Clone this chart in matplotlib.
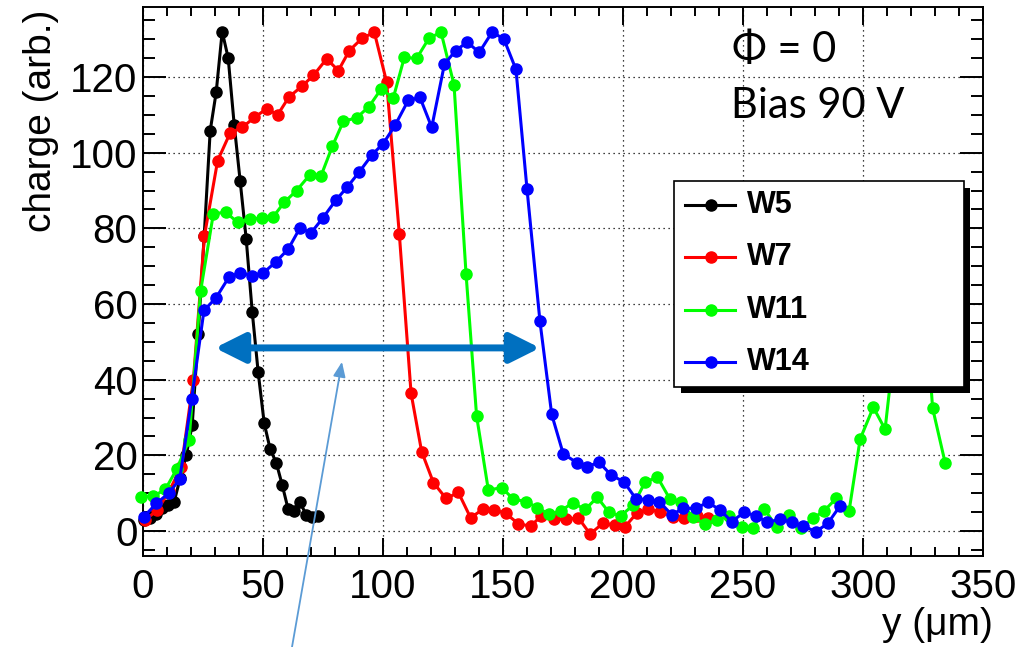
import matplotlib
matplotlib.use("Agg")
import matplotlib.pyplot as plt
from matplotlib.patches import Rectangle
from matplotlib.lines import Line2D
from matplotlib.ticker import MultipleLocator

# data: position y (um) and collected charge (arb.) per wafer
w5_x = [0.5, 3, 5.5, 8, 10.5, 13, 15.5, 18, 20.5, 23, 25.5, 28, 30.5, 33, 35.5,
        38, 40.5, 43, 45.5, 48, 50.5, 53, 55.5, 58, 60.5, 63, 65.5, 68, 70.5, 73]
w5_y = [3, 3.5, 4.5, 6, 7, 7.8, 14, 20, 28, 52, 78, 105.8, 116, 132, 125,
        107.4, 92.4, 77.2, 58, 41.9, 28.5, 21.6, 18.1, 12.2, 5.7, 5.3, 7.6, 4.2, 3.6, 3.9]

w7_x = [1, 6, 11, 16, 21, 25.6, 31.1, 36.3, 41.4, 46.4, 51.5, 56.1, 60.8, 66.1, 71,
        76.5, 81.4, 86, 91.4, 96.4, 101.5, 106.8, 111.7, 116.1, 121, 126.3, 131.4, 136.5,
        141.5, 146.3, 151.1, 156.4, 161.5, 166, 171.3, 176.3, 181.4, 186.3, 191.5, 196.7,
        200.8, 205.7, 210.5, 215.4, 221, 225.5, 231, 235.5]
w7_y = [3, 5.5, 10.7, 17, 40, 78, 97.9, 105.2, 106.7, 109.3, 111.6, 110, 114.7, 117.5, 120.4,
        124.8, 121.7, 127, 130.3, 131.8, 118.7, 78.5, 36.4, 21, 12.8, 8.6, 10.2, 3.5,
        5.7, 5.6, 4.7, 1.9, 1.3, 4, 3.1, 3.1, 3.5, -0.8, 2, 1.6,
        1.1, 4.7, 5.7, 5.1, 3.8, 3.4, 4, 3.4]

w11_x = [-0.8, 4.3, 9.3, 14, 19.2, 24, 29.3, 34.4, 39.4, 44.6, 49.7, 54.3, 58.9, 64, 69.6,
         74.2, 78.9, 83.5, 89, 94.2, 99.2, 104.3, 108.9, 114, 119.2, 124.2, 129.6, 134.6,
         139, 143.9, 149.5, 154.3, 159.5, 164.3, 169.3, 174.2, 179, 184.2, 189.3, 194.2,
         199, 204.2, 209.2, 214.3, 219.5, 224.2, 229, 234.2, 239, 244.3, 249.4, 254, 258.9,
         264, 269.3, 274.2, 279.3, 283.9, 288.8, 294.2, 298.8, 304.3, 309.2, 314, 319, 324,
         329, 334.2]
w11_y = [9.1, 9.2, 11, 16.3, 24, 63.4, 83.8, 84.3, 81.6, 82.5, 82.7, 83.1, 86.9, 90, 94.2,
         93.9, 101.7, 108.3, 109.2, 112.2, 116.8, 114.5, 125.2, 124.9, 130.3, 131.8, 117.9, 68,
         30.4, 10.8, 11.5, 8.4, 7.8, 6.2, 4.4, 5.3, 7.5, 5.7, 8.9, 4.9,
         4, 6.8, 12.9, 14.3, 8.5, 7.8, 3.6, 1.9, 2.9, 4, 1.1, 0.7, 5.8,
         1.1, 4.2, 0.7, 3.4, 5.4, 8.6, 5.3, 24.3, 32.7, 26.9, 54, 70, 77,
         32.5, 18.1]

w14_x = [0.4, 5.6, 10.7, 15.3, 20.3, 25.4, 30.4, 35.8, 40.4, 45.5, 50.1, 55.3, 60.5, 65.4, 70,
         74.9, 80.3, 85.1, 90.1, 95.5, 100.1, 105, 110.5, 115.4, 120.3, 125.6, 130.3, 135.1,
         140.1, 145.5, 150.4, 155.4, 160, 165.4, 170.3, 175.1, 180.7, 185.1, 190, 195,
         200.4, 205.4, 210.5, 215.1, 220.3, 225.1, 230.4, 235.3, 240.4, 245.3, 250.4, 255.3,
         260.1, 265.4, 270.3, 275.1, 280.3, 285.3, 290.4]
w14_y = [3.8, 7.3, 10, 13.7, 35, 58.3, 61.6, 67.1, 68.3, 67.5, 68.2, 71.1, 74.5, 80.1, 78.8,
         82.7, 87.4, 90.9, 94.9, 99.5, 102.4, 107.2, 113.8, 114.6, 106.7, 123.4, 127, 129.2,
         126.5, 131.9, 130, 122, 90.4, 55.4, 30.8, 20.4, 18.1, 17, 18.2, 14.8,
         13, 8.5, 8.3, 7.8, 4.3, 6, 6, 7.6, 5.6, 2.5, 4.9, 4.1,
         2.3, 3.1, 2.3, 1.4, -0.2, 2, 6.6]

labels = ["W5", "W7", "W11", "W14"]
colors = ["black", "#ff0000", "#00ff00", "#0000ff"]

# width marker (double arrow) and pointer arrow, in data units
width_from = 30.0
width_to = 165.4
width_level = 48.4
pointer_tip = (82.9, 44.7)

W, H = 1020, 647
fig = plt.figure(figsize=(W / 100, H / 100), dpi=100)
ax = fig.add_axes([143 / W, 1 - 556 / H, 840 / W, 549 / H])

series = [(w5_x, w5_y), (w7_x, w7_y), (w11_x, w11_y), (w14_x, w14_y)]
for (xs, ys), c in zip(series, colors):
    ax.plot(xs, ys, "-o", color=c, lw=2.2, ms=8, clip_on=False, zorder=3)

ax.set_xlim(0, 350)
ax.set_ylim(-6.6, 138.5)
ax.xaxis.set_major_locator(MultipleLocator(50))
ax.xaxis.set_minor_locator(MultipleLocator(10))
ax.yaxis.set_major_locator(MultipleLocator(20))
ax.yaxis.set_minor_locator(MultipleLocator(5))
ax.grid(True, which="major", color="black", lw=0.9, ls=(0, (1, 3)))

tick_font = dict(family="Liberation Sans", size=28)
ax.tick_params(axis="both", which="both", direction="in", top=True, right=True, width=1.4)
ax.tick_params(axis="x", which="major", length=13, pad=9)
ax.tick_params(axis="x", which="minor", length=6.5)
ax.tick_params(axis="y", which="major", length=16.5, pad=4)
ax.tick_params(axis="y", which="minor", length=8.5)
for lab in ax.get_xticklabels() + ax.get_yticklabels():
    lab.set_fontfamily("Liberation Sans")
    lab.set_fontsize(29)
for sp in ax.spines.values():
    sp.set_linewidth(1.4)

fig.text(41 / W, 1 - 10 / H, "charge (arb.)", rotation=90, ha="center", va="top", **tick_font)
fig.text(993 / W, 1 - 625 / H, "y (\u03bcm)", ha="right", va="center", **tick_font)

# annotation text
fig.text(732 / W, 1 - 62 / H, "\u03a6 = 0", ha="left", va="baseline", family="Lato", size=30)
fig.text(731 / W, 1 - 118 / H, "Bias 90 V", ha="left", va="baseline", family="Lato", size=30)

# width arrow
ax.annotate("", xy=(width_to, width_level), xytext=(width_from, width_level),
            arrowprops=dict(arrowstyle="<|-|>,head_length=0.6,head_width=0.3",
                            color="#0070C0", lw=5, mutation_scale=30,
                            shrinkA=0, shrinkB=0), zorder=4)
ax.annotate("", xy=pointer_tip, xycoords="data", xytext=(292, 0), textcoords="figure pixels",
            arrowprops=dict(arrowstyle="-|>,head_length=0.6,head_width=0.25",
                            color="#5B9BD5", lw=1.3, mutation_scale=15,
                            shrinkA=0, shrinkB=0),
            annotation_clip=False, zorder=4)

# ROOT-style legend with solid shadow
def fpx(x, y):
    return x / W, 1 - y / H

fig.add_artist(Rectangle(fpx(681, 393), 289 / W, 205 / H, transform=fig.transFigure,
                         facecolor="black", edgecolor="none", zorder=5))
fig.add_artist(Rectangle(fpx(674, 387), 290 / W, 206 / H, transform=fig.transFigure,
                         facecolor="white", edgecolor="black", lw=1.2, zorder=6))
for i, (lab, c) in enumerate(zip(labels, colors)):
    yy = 205 + i * 52.3
    x0, y0 = fpx(685, yy)
    x1, _ = fpx(735, yy)
    xm, _ = fpx(711, yy)
    fig.add_artist(Line2D([x0, x1], [y0, y0], transform=fig.transFigure, color=c, lw=2.2, zorder=7))
    fig.add_artist(Line2D([xm], [y0], transform=fig.transFigure, color=c, marker="o", ms=8, zorder=7))
    tx, ty = fpx(747, yy)
    fig.text(tx, ty, lab, ha="left", va="center", family="Liberation Sans", weight="bold",
             size=22, zorder=7)

fig.savefig("out.png", dpi=100)
